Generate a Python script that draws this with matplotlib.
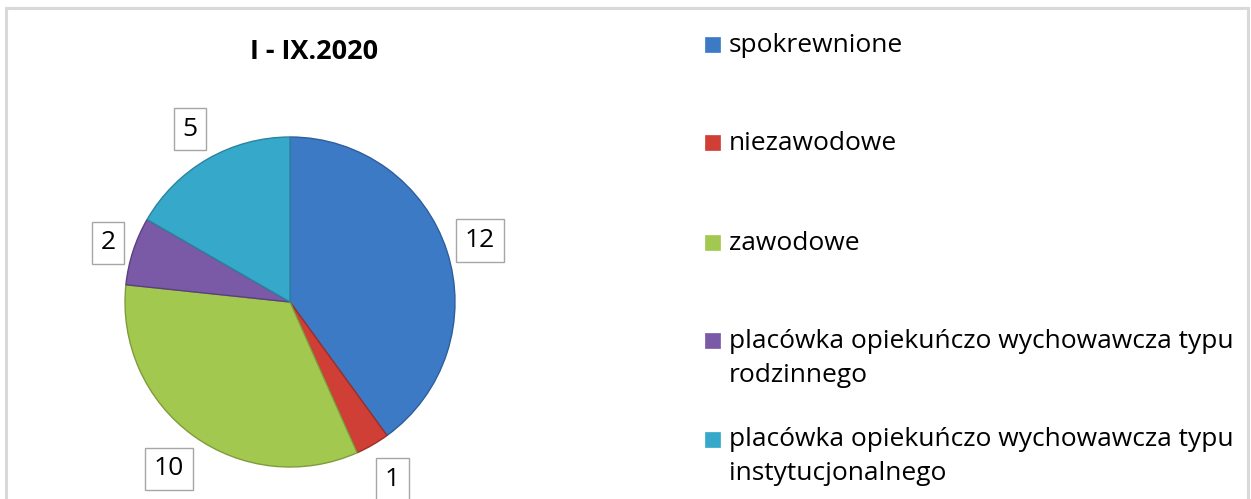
import numpy as np
import matplotlib
matplotlib.use("Agg")
import matplotlib.pyplot as plt
from matplotlib.patches import Rectangle

plt.rcParams['font.family'] = ['Open Sans', 'DejaVu Sans']

title = "I - IX.2020"
categories = ["spokrewnione", "niezawodowe", "zawodowe",
              "placówka opiekuńczo wychowawcza typu\nrodzinnego",
              "placówka opiekuńczo wychowawcza typu\ninstytucjonalnego"]
values = [12, 1, 10, 2, 5]
colors = ["#3D7AC6", "#CF3F36", "#A3C850", "#7A5AA6", "#36A9CA"]
edge_colors = ["#2E5E9C", "#9E2E28", "#7F9C3C", "#5A4080", "#2A84A0"]

W, H = 1251, 499
fig = plt.figure(figsize=(W / 100, H / 100), dpi=100)
ax = fig.add_axes([0, 0, 1, 1])

cx, cy, R = 290, 197, 165
wedges, _ = ax.pie(values, colors=colors, startangle=90, counterclock=False,
                   center=(cx, cy), radius=R, frame=True,
                   wedgeprops=dict(linewidth=1.0))
ax.set_xlim(0, W)
ax.set_ylim(0, H)
ax.set_aspect('equal')
ax.axis('off')
for w, ec in zip(wedges, edge_colors):
    w.set_edgecolor(ec)

# outer frame
ax.plot([6, 6, 1248, 1248], [-5, 491, 491, -5], color="#D9D9D9", lw=2.2,
        solid_joinstyle='miter', zorder=0)

dists = [1.21, 1.24, 1.25, 1.16, 1.21]
for w, v, d in zip(wedges, values, dists):
    ang = np.deg2rad((w.theta1 + w.theta2) / 2)
    x = cx + d * R * np.cos(ang)
    y = cy + d * R * np.sin(ang)
    ax.text(x, y, str(v), ha='center', va='center', fontsize=19, color='#000000',
            bbox=dict(boxstyle='square,pad=0.33', fc='white', ec='#A6A6A6', lw=1))

ax.text(314, H - 52, title, ha='center', va='center', fontsize=19.5, fontweight='bold')

legend_y = [45, 143, 243, 341, 440]
for cat, col, ly in zip(categories, colors, legend_y):
    ax.add_patch(Rectangle((705, H - ly - 7), 15, 15, fc=col, ec=col, lw=0.5))
    lines = cat.split("\n")
    for i, ln in enumerate(lines):
        ax.text(729, H - ly - i * 34, ln, ha='left', va='center', fontsize=19, color='#000000')

fig.savefig("out.png", dpi=100)
